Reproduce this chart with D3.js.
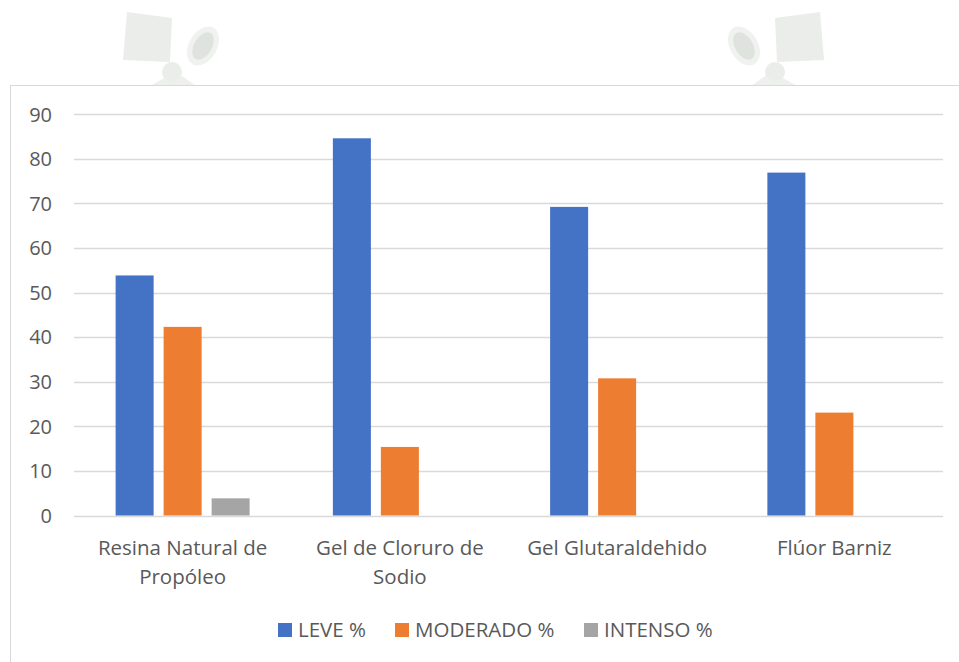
<!DOCTYPE html>
<html><head><meta charset="utf-8">
<script src="https://cdn.jsdelivr.net/npm/d3@7"></script>
<style>body{margin:0;background:#fff}svg{display:block}text{font-family:"Open Sans",sans-serif;fill:#595959}</style>
</head><body><svg id="c" width="959" height="662"></svg>
<script>
const categories = [["Resina Natural de","Propóleo"],["Gel de Cloruro de","Sodio"],["Gel Glutaraldehido"],["Flúor Barniz"]];
const seriesNames = ["LEVE %","MODERADO %","INTENSO %"];
const leve = [53.85, 84.62, 69.23, 76.92];
const moderado = [42.31, 15.38, 30.77, 23.08];
const intenso = [3.85, 0, 0, 0];
const yTicks = [0,10,20,30,40,50,60,70,80,90];
const colors = ["#4472c4","#ed7d31","#a5a5a5"];

const svg = d3.select("#c");
// faint watermark logos
const wm = svg.append("g");
function logo(cx, flip){
  const g = wm.append("g").attr("transform",`translate(${cx},0) scale(${flip?-1:1},1)`);
  g.append("path").attr("d","M-45,12 L0,18 L-2,62 L-49,60 Z").attr("fill","#ebedea");
  g.append("ellipse").attr("cx",31).attr("cy",46).attr("rx",21).attr("ry",14).attr("transform","rotate(-60,31,46)").attr("fill","#f0f2ef");
  g.append("ellipse").attr("cx",31).attr("cy",46).attr("rx",15).attr("ry",9).attr("transform","rotate(-60,31,46)").attr("fill","#dfe3dd");
  g.append("circle").attr("cx",0).attr("cy",72).attr("r",10).attr("fill","#ebedea");
  g.append("path").attr("d","M-22,86 L-8,78 L0,82 L10,76 L24,86 Z").attr("fill","#eef0ed");
}
logo(172,false); logo(775,true);

svg.append("rect").attr("x",10.5).attr("y",85.5).attr("width",960).attr("height",600)
  .attr("fill","#fff").attr("stroke","#d9d9d9");

const x0 = d3.scaleBand().domain(d3.range(categories.length)).range([74,943]).paddingInner(0).paddingOuter(0);
const y = d3.scaleLinear().domain([0,90]).range([515.5,114.3]);
const x1 = d3.scaleBand().domain(d3.range(3)).range([0,x0.bandwidth()]).paddingInner(0.208).paddingOuter(0.867);

const grid = svg.append("g");
yTicks.forEach(t=>{
  grid.append("line").attr("x1",74).attr("x2",943).attr("y1",Math.round(y(t))+0.5).attr("y2",Math.round(y(t))+0.5)
    .attr("stroke","#d9d9d9").attr("stroke-width",1.3);
  svg.append("text").attr("x",52).attr("y",y(t)).attr("dy","0.36em").attr("text-anchor","end")
    .attr("font-size",20).text(t);
});

const series = [leve, moderado, intenso];
series.forEach((vals,si)=>{
  svg.append("g").selectAll("rect").data(vals).join("rect")
    .filter(d=>d>0)
    .attr("x",(d,i)=>x0(i)+x1(si)).attr("width",x1.bandwidth())
    .attr("y",d=>y(d)).attr("height",d=>y(0)-y(d)).attr("fill",colors[si]);
});

categories.forEach((lines,i)=>{
  const t = svg.append("text").attr("text-anchor","middle").attr("font-size",20.5);
  lines.forEach((l,k)=>t.append("tspan").attr("x",x0(i)+x0.bandwidth()/2).attr("y",555+k*28.5).text(l));
});

const legX = [278,395,584];
seriesNames.forEach((n,i)=>{
  svg.append("rect").attr("x",legX[i]).attr("y",623).attr("width",14).attr("height",14).attr("fill",colors[i]);
  svg.append("text").attr("x",legX[i]+20).attr("y",637).attr("font-size",20.5).text(n);
});
</script></body></html>
